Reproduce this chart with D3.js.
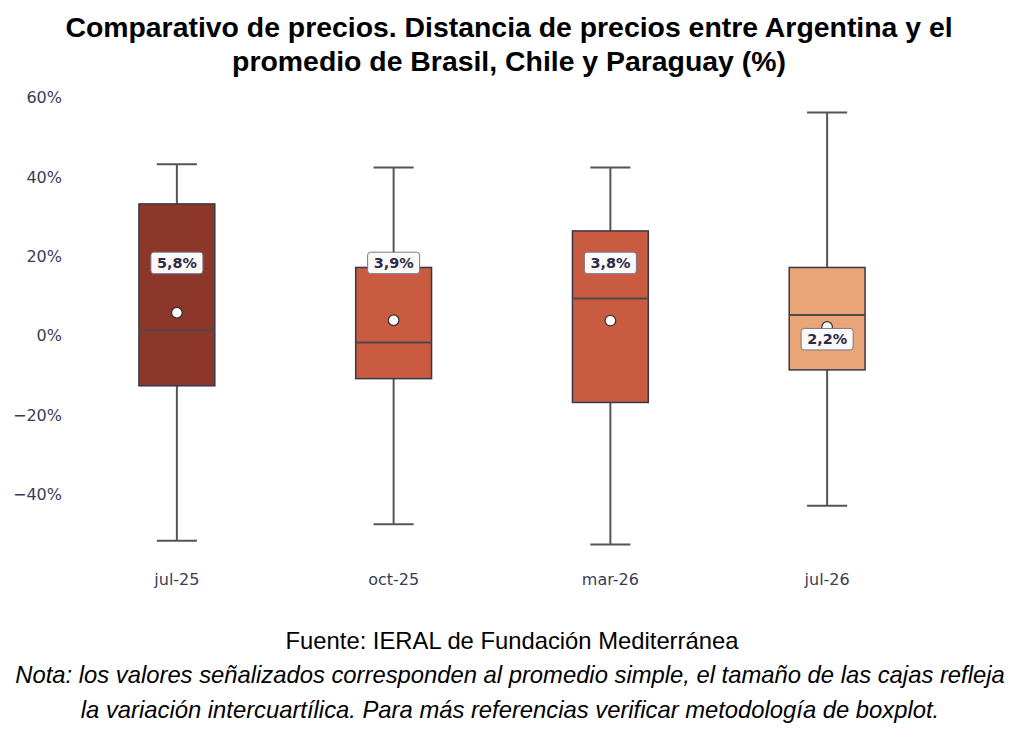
<!DOCTYPE html>
<html><head><meta charset="utf-8">
<script src="https://cdn.jsdelivr.net/npm/d3@7/dist/d3.min.js"></script>
<style>body{margin:0;background:#fff}</style>
</head><body>
<svg id="c" width="1024" height="733"></svg>
<script>
const categories = ["jul-25","oct-25","mar-26","jul-26"];
const whiskerLow  = [-51.6,-47.5,-52.6,-42.8];
const q1          = [-12.6,-10.8,-16.8,-8.6];
const median      = [1.3,-1.7,9.4,5.2];
const q3          = [33.2,17.2,26.4,17.2];
const whiskerHigh = [43.2,42.4,42.4,56.2];
const mean        = [5.8,3.9,3.8,2.2];
const meanLabels  = ["5,8%","3,9%","3,8%","2,2%"];
const labelValue  = [18.4,18.4,18.4,-0.8];
const fills       = ["#8c372a","#c95b41","#c95b41","#e9a478"];
const yTicks      = [-40,-20,0,20,40,60];

const svg = d3.select("#c");
const x = d3.scaleBand().domain(categories).range([68.5,935.5]).paddingInner(0).paddingOuter(0);
const y = d3.scaleLinear().domain([-60,60]).range([574,97.5]);
const data = categories.map((c,i)=>({c,lo:whiskerLow[i],q1:q1[i],med:median[i],q3:q3[i],hi:whiskerHigh[i],mean:mean[i],lab:meanLabels[i],ly:labelValue[i],fill:fills[i]}));
const bw = x.bandwidth()*0.35, cw = x.bandwidth()*0.185;

// title
const tf = "bold 28.4px 'Liberation Sans', Arial, sans-serif";
svg.append("text").attr("x",509).attr("y",37).attr("text-anchor","middle").style("font",tf)
  .text("Comparativo de precios. Distancia de precios entre Argentina y el");
svg.append("text").attr("x",509).attr("y",71).attr("text-anchor","middle").style("font",tf)
  .text("promedio de Brasil, Chile y Paraguay (%)");

// y axis
const fmt = v => (v<0?"\u2212":"") + Math.abs(v) + "%";
const ya = svg.append("g").attr("transform","translate(62,0)")
  .call(d3.axisLeft(y).tickValues(yTicks).tickFormat(fmt).tickSize(0).tickPadding(0));
ya.select(".domain").remove();
ya.selectAll("text").style("font","16px 'DejaVu Sans', sans-serif").attr("fill","#3b3b58");

// x axis
const xa = svg.append("g").attr("transform","translate(0,585)")
  .call(d3.axisBottom(x).tickSize(0).tickPadding(0));
xa.select(".domain").remove();
xa.selectAll("text").style("font","16px 'DejaVu Sans', sans-serif").attr("fill","#3b3b58").attr("y",0).attr("dy","0");

const g = svg.append("g").selectAll("g").data(data).join("g")
  .attr("transform",d=>`translate(${x(d.c)+x.bandwidth()/2},0)`);

// whiskers
g.append("line").attr("x1",0).attr("x2",0).attr("y1",d=>y(d.hi)).attr("y2",d=>y(d.q3)).attr("stroke","#555").attr("stroke-width",2);
g.append("line").attr("x1",0).attr("x2",0).attr("y1",d=>y(d.q1)).attr("y2",d=>y(d.lo)).attr("stroke","#555").attr("stroke-width",2);
g.append("line").attr("x1",-cw/2).attr("x2",cw/2).attr("y1",d=>y(d.hi)).attr("y2",d=>y(d.hi)).attr("stroke","#555").attr("stroke-width",2);
g.append("line").attr("x1",-cw/2).attr("x2",cw/2).attr("y1",d=>y(d.lo)).attr("y2",d=>y(d.lo)).attr("stroke","#555").attr("stroke-width",2);
// box
g.append("rect").attr("x",-bw/2).attr("width",bw).attr("y",d=>y(d.q3)).attr("height",d=>y(d.q1)-y(d.q3))
  .attr("fill",d=>d.fill).attr("stroke","#383848").attr("stroke-width",1.5);
// median
g.append("line").attr("x1",-bw/2).attr("x2",bw/2).attr("y1",d=>y(d.med)).attr("y2",d=>y(d.med)).attr("stroke","#4a4a4a").attr("stroke-width",2);
// mean
g.append("circle").attr("cx",0).attr("cy",d=>y(d.mean)).attr("r",5.3).attr("fill","#fff").attr("stroke","#333").attr("stroke-width",1.2);
// labels
const lg = g.append("g").attr("transform",d=>`translate(0,${y(d.ly)})`);
lg.append("rect").attr("x",-26).attr("y",-10.5).attr("width",52).attr("height",21.5).attr("rx",3)
  .attr("fill","#fbf8f8").attr("stroke","#77778a").attr("stroke-width",1);
lg.append("text").attr("text-anchor","middle").attr("dy","0.36em")
  .style("font","bold 14.4px 'DejaVu Sans', sans-serif").attr("fill","#2b2b48").text(d=>d.lab);

// footer
const ff = "23.8px 'Liberation Sans', Arial, sans-serif";
svg.append("text").attr("x",512).attr("y",649).attr("text-anchor","middle").style("font",ff)
  .text("Fuente: IERAL de Fundación Mediterránea");
svg.append("text").attr("x",510).attr("y",683).attr("text-anchor","middle").style("font","italic "+ff)
  .text("Nota: los valores señalizados corresponden al promedio simple, el tamaño de las cajas refleja");
svg.append("text").attr("x",510).attr("y",718).attr("text-anchor","middle").style("font","italic "+ff)
  .text("la variación intercuartílica. Para más referencias verificar metodología de boxplot.");
</script>
</body></html>
